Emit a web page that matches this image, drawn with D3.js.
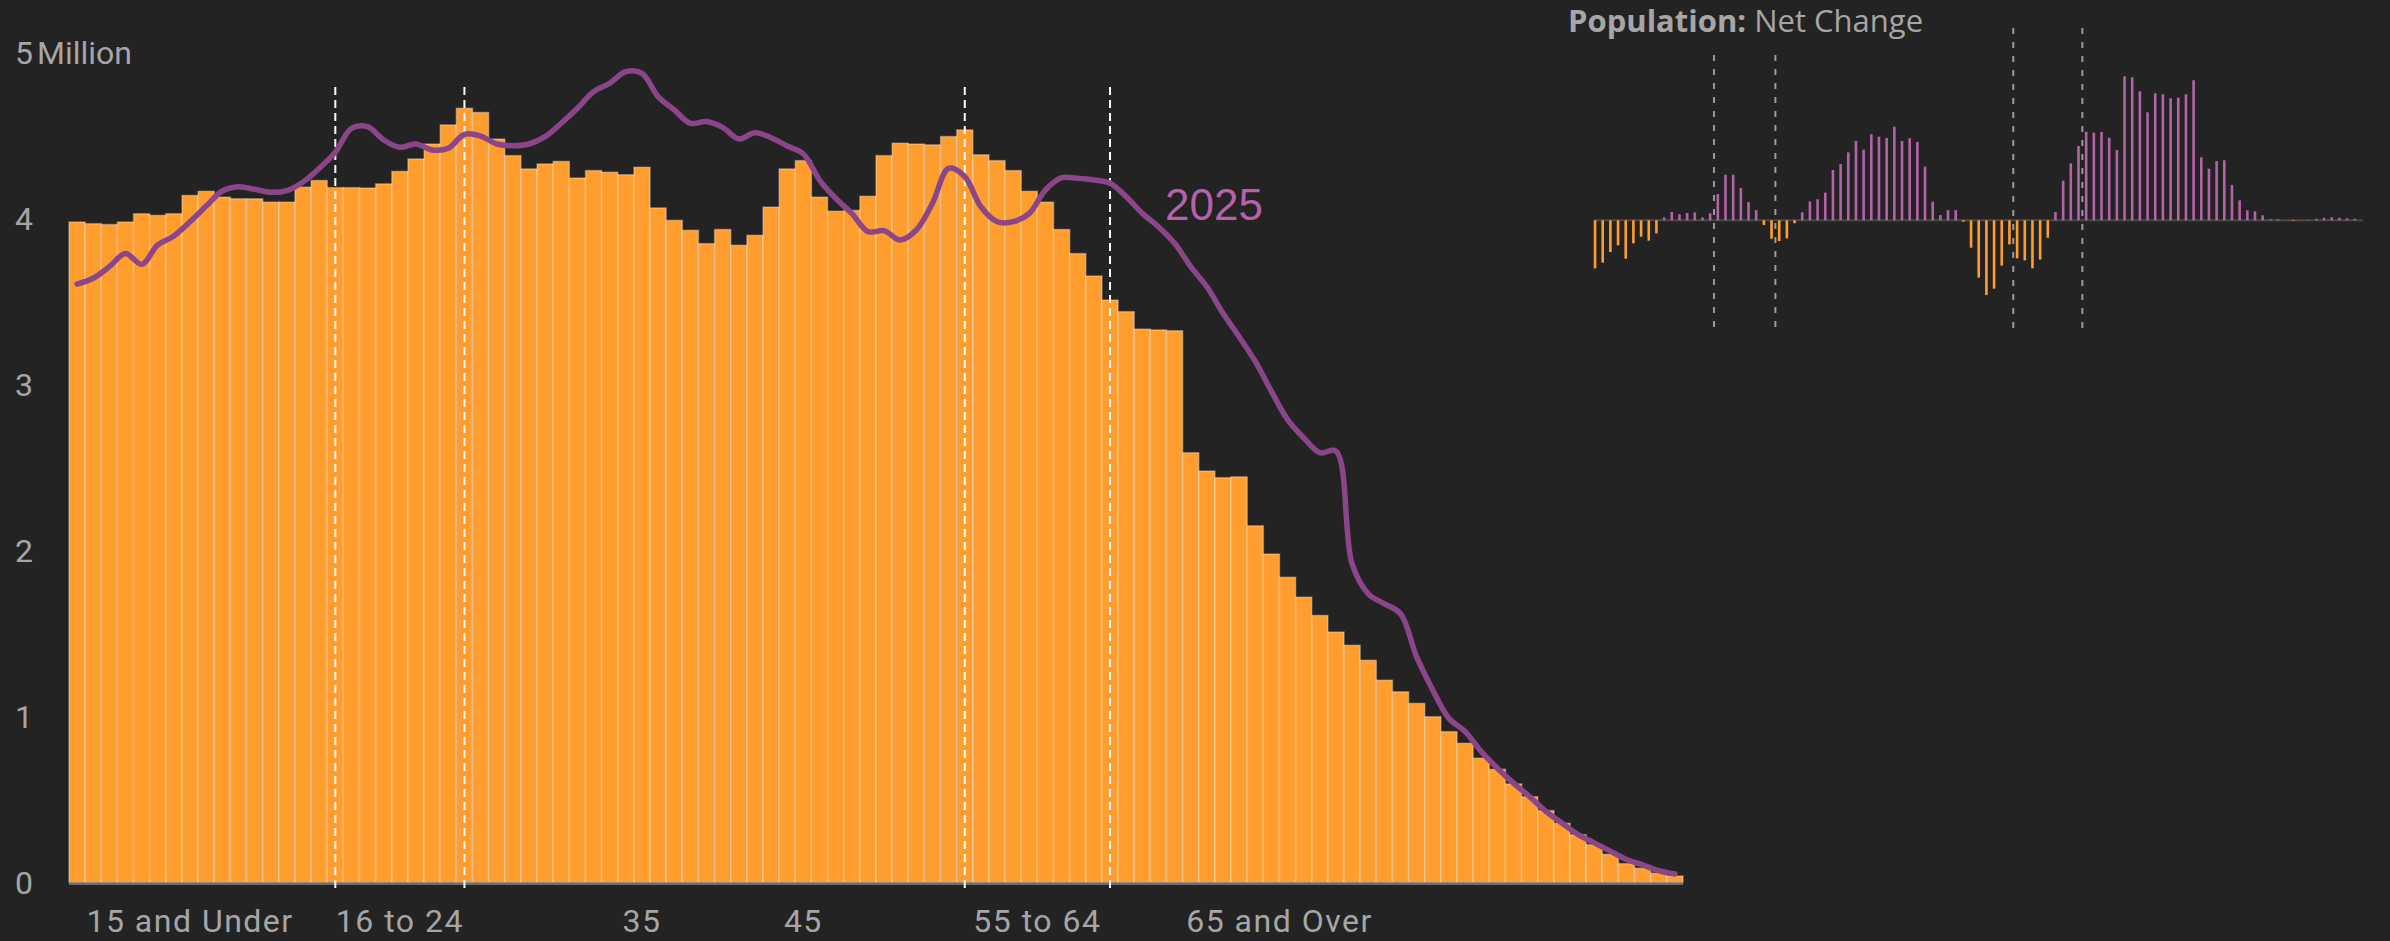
<!DOCTYPE html>
<html>
<head>
<meta charset="utf-8">
<script src="https://cdn.jsdelivr.net/npm/d3@7"></script>
<style>
	body { margin: 0; background: #232323; }
	svg { display: block; }
</style>
</head>
<body>
<div id="container"></div>
<script>
// population by single year of age, millions
const ages = d3.range(0, 100);
const current = [
	3.98, 3.97, 3.965, 3.98, 4.03, 4.02, 4.03, 4.14, 4.165, 4.13,
	4.12, 4.12, 4.10, 4.10, 4.19, 4.23, 4.187, 4.187, 4.185, 4.21,
	4.285, 4.36, 4.45, 4.565, 4.665, 4.64, 4.48, 4.38, 4.30, 4.33,
	4.345, 4.245, 4.29, 4.28, 4.265, 4.31, 4.065, 3.99, 3.93, 3.85,
	3.935, 3.84, 3.90, 4.07, 4.30, 4.35, 4.13, 4.045, 4.05, 4.135,
	4.38, 4.455, 4.45, 4.445, 4.495, 4.535, 4.385, 4.35, 4.29, 4.165,
	4.10, 3.935, 3.79, 3.655, 3.51, 3.44, 3.335, 3.33, 3.325, 2.59,
	2.48, 2.44, 2.445, 2.15, 1.98, 1.84, 1.72, 1.61, 1.51, 1.43,
	1.34, 1.22, 1.15, 1.08, 1.00, 0.91, 0.84, 0.75, 0.683, 0.595,
	0.518, 0.434, 0.358, 0.289, 0.229, 0.171, 0.115, 0.087, 0.057, 0.04
];
const pop2025 = [
	3.606, 3.641, 3.711, 3.791, 3.725, 3.842, 3.896, 3.982, 4.076, 4.167,
	4.193, 4.177, 4.159, 4.169, 4.221, 4.303, 4.40, 4.544, 4.554, 4.474,
	4.43, 4.45, 4.414, 4.424, 4.508, 4.498, 4.45, 4.44, 4.45, 4.494,
	4.575, 4.665, 4.765, 4.816, 4.886, 4.876, 4.735, 4.655, 4.575, 4.585,
	4.55, 4.48, 4.518, 4.488, 4.438, 4.39, 4.233, 4.123, 4.032, 3.922,
	3.928, 3.872, 3.932, 4.093, 4.303, 4.253, 4.072, 3.982, 3.982, 4.032,
	4.173, 4.247, 4.243, 4.233, 4.213, 4.133, 4.032, 3.952, 3.852, 3.711,
	3.59, 3.43, 3.289, 3.14, 2.96, 2.79, 2.68, 2.59, 2.60, 1.92,
	1.74, 1.68, 1.62, 1.36, 1.16, 0.99, 0.91, 0.79, 0.69, 0.60,
	0.518, 0.43, 0.36, 0.29, 0.24, 0.19, 0.14, 0.107, 0.072, 0.052
];
// net change shown in the inset, millions
const netChange = [
	-0.375, -0.331, -0.248, -0.195, -0.300, -0.180, -0.128, -0.159, -0.102, 0.023,
	0.065, 0.047, 0.057, 0.062, 0.023, 0.055, 0.205, 0.356, 0.356, 0.252,
	0.143, 0.080, -0.037, -0.144, -0.162, -0.141, -0.023, 0.062, 0.148, 0.164,
	0.216, 0.393, 0.440, 0.531, 0.620, 0.552, 0.672, 0.653, 0.643, 0.731,
	0.620, 0.641, 0.612, 0.419, 0.145, 0.041, 0.080, 0.080, -0.011, -0.214,
	-0.448, -0.584, -0.534, -0.355, -0.188, -0.297, -0.313, -0.375, -0.307, -0.136,
	0.065, 0.309, 0.445, 0.580, 0.692, 0.684, 0.690, 0.645, 0.549, 1.125,
	1.117, 1.008, 0.844, 0.992, 0.984, 0.953, 0.958, 0.984, 1.094, 0.492,
	0.403, 0.463, 0.469, 0.276, 0.156, 0.078, 0.070, 0.039, 0.008, 0.008,
	0.000, -0.005, 0.002, 0.003, 0.012, 0.020, 0.023, 0.020, 0.015, 0.012
];
const yTicks = [0, 1, 2, 3, 4, 5];
const tickLabels = ['15 and Under', '16 to 24', '35', '45', '55 to 64', '65 and Over'];
const tickAges = [7, 20, 35, 45, 59.5, 74.5];
const groupBreaks = [16, 24, 55, 64];
const seriesLabel = '2025';

const W = 2390, H = 941;
const ORANGE = '#ff9d2f';
const PURPLE = '#8b4689';
const PINK = '#b462a9';
const GREY = '#a6a6a6';

const svg = d3.select('#container').append('svg')
	.attr('width', W)
	.attr('height', H)
	.style('background', '#232323');

// main chart
const x = d3.scaleBand().domain(ages).range([69, 1683]).padding(0);
const y = d3.scaleLinear().domain([0, 5]).range([882.7, 52.7]);

svg.append('g')
	.selectAll('rect')
	.data(ages)
	.join('rect')
	.attr('x', a => x(a))
	.attr('y', a => y(current[a]))
	.attr('width', x.bandwidth())
	.attr('height', a => y(0) - y(current[a]))
	.attr('fill', ORANGE)
	.attr('stroke', 'rgba(255,255,255,0.33)')
	.attr('stroke-width', 1.5);

svg.append('line')
	.attr('x1', x.range()[0]).attr('x2', x.range()[1])
	.attr('y1', y(0) + 1).attr('y2', y(0) + 1)
	.attr('stroke', '#6e6e6e')
	.attr('stroke-width', 2.5);

svg.append('g')
	.selectAll('line')
	.data(groupBreaks)
	.join('line')
	.attr('x1', a => x(a) + x.bandwidth() / 2)
	.attr('x2', a => x(a) + x.bandwidth() / 2)
	.attr('y1', 87).attr('y2', 891)
	.attr('stroke', '#ffffff')
	.attr('stroke-width', 2)
	.attr('stroke-dasharray', '8,5');

const line = d3.line()
	.x(a => x(a) + x.bandwidth() / 2)
	.y(a => y(pop2025[a]))
	.curve(d3.curveCatmullRom.alpha(0.5));

svg.append('path')
	.datum(ages)
	.attr('d', line)
	.attr('fill', 'none')
	.attr('stroke', PURPLE)
	.attr('stroke-width', 5.5)
	.attr('stroke-linecap', 'round')
	.attr('stroke-linejoin', 'round');

svg.append('text')
	.attr('x', 1165).attr('y', 220)
	.attr('fill', PINK)
	.style('font-family', '"Liberation Sans", Arial, sans-serif')
	.style('font-size', '44px')
	.text(seriesLabel);

// y axis labels
const yLabels = svg.append('g')
	.style('font-family', 'Roboto, sans-serif')
	.style('font-size', '32px')
	.attr('fill', GREY);
yLabels.selectAll('text')
	.data(yTicks)
	.join('text')
	.attr('x', 15)
	.attr('y', v => y(v) + 11.5)
	.text(v => v);
yLabels.append('text')
	.attr('x', 37)
	.attr('y', y(5) + 11.5)
	.text('Million');

// x axis labels
svg.append('g')
	.style('font-family', 'Roboto, sans-serif')
	.style('font-size', '32px')
	.style('letter-spacing', '1.5px')
	.attr('fill', GREY)
	.attr('text-anchor', 'middle')
	.selectAll('text')
	.data(tickLabels)
	.join('text')
	.attr('x', (d, i) => x(0) + x.bandwidth() * (tickAges[i] + 0.5))
	.attr('y', 932)
	.text(d => d);

// inset: net change
const xi = d3.scaleBand().domain(ages).range([1591.2, 2358.6]).padding(0);
const yi = d3.scaleLinear().domain([-1, 1]).range([348.3, 92.3]);

const title = svg.append('text')
	.attr('x', 1568).attr('y', 32)
	.attr('fill', GREY)
	.style('font-family', '"Open Sans", sans-serif')
	.style('font-size', '31px');
title.append('tspan').style('font-weight', 'bold').text('Population:');
title.append('tspan').text(' Net Change');

svg.append('line')
	.attr('x1', 1594).attr('x2', 2363)
	.attr('y1', yi(0)).attr('y2', yi(0))
	.attr('stroke', '#4a4a4a')
	.attr('stroke-width', 2);

svg.append('g')
	.selectAll('line')
	.data(groupBreaks)
	.join('line')
	.attr('x1', a => xi(a))
	.attr('x2', a => xi(a))
	.attr('y1', a => a < 40 ? 55 : 28)
	.attr('y2', 328)
	.attr('stroke', '#9a9a9a')
	.attr('stroke-width', 2)
	.attr('stroke-dasharray', '6,8');

svg.append('g')
	.selectAll('rect')
	.data(ages)
	.join('rect')
	.attr('x', a => xi(a) + xi.bandwidth() / 2 - 1.3)
	.attr('y', a => Math.min(yi(0), yi(netChange[a])))
	.attr('width', 2.6)
	.attr('height', a => Math.abs(yi(netChange[a]) - yi(0)))
	.attr('fill', a => netChange[a] < 0 ? ORANGE : PINK);
</script>
</body>
</html>
